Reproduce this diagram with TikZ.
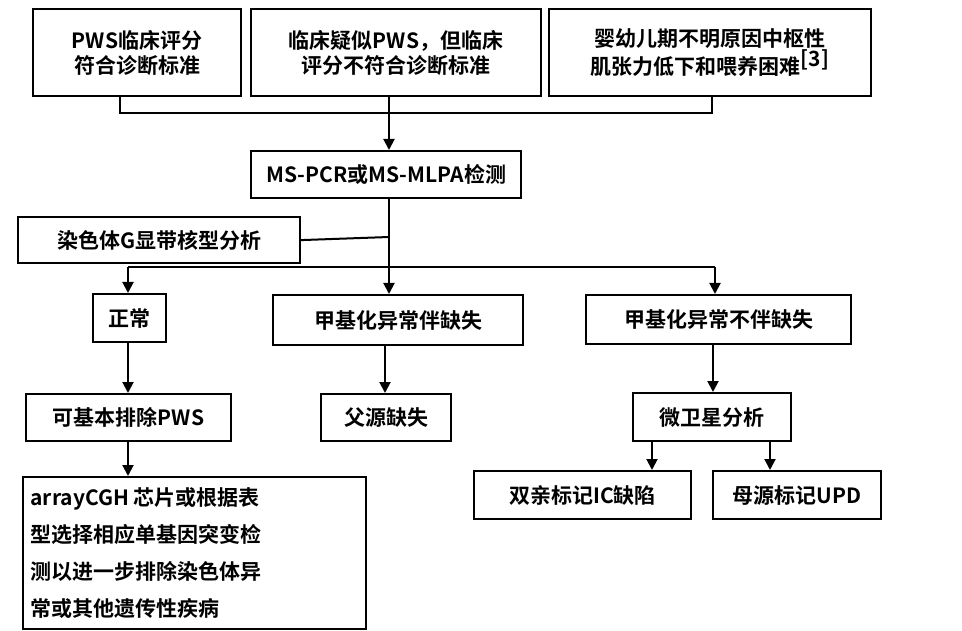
\documentclass[tikz,border=0pt]{standalone}
\usepackage{fontspec}
\setmainfont{Noto Sans CJK SC}[BoldFont={* Bold}]
\usetikzlibrary{arrows.meta}
\begin{document}
\begin{tikzpicture}[x=1pt,y=-1pt,
  box/.style={draw,line width=2.2pt,font=\bfseries\fontsize{21}{25}\selectfont,inner sep=0pt,anchor=north west},
  ln/.style={line width=2pt},
  ar/.style={line width=2pt,-{Triangle[length=11pt,width=11pt]}}]
\useasboundingbox (0,0) rectangle (962,631);
\newcommand{\bx}[6]{\node[box,minimum width=#4-#2,minimum height=#5-#3,align=#6] (#1) at (#2,#3) {};}
\bx{b1}{32}{8}{240}{95}{center}
\node[font=\bfseries\fontsize{21}{25}\selectfont,align=center] at (b1.center) {PWS临床评分\\符合诊断标准};
\bx{b2}{250}{8}{540}{95}{center}
\node[font=\bfseries\fontsize{21}{25}\selectfont,align=center] at (b2.center) {临床疑似PWS，但临床\\评分不符合诊断标准};
\bx{b3}{548}{8}{870}{95}{center}
\node[font=\bfseries\fontsize{21}{25}\selectfont,align=center] at (b3.center) {婴幼儿期不明原因中枢性\\肌张力低下和喂养困难$^{\textbf{[3]}}$};
\bx{ms}{250}{150}{520}{197}{center}
\node[font=\bfseries\fontsize{21}{25}\selectfont] at (ms.center) {MS-PCR或MS-MLPA检测};
\bx{g}{17}{216}{299}{262}{center}
\node[font=\bfseries\fontsize{21}{25}\selectfont] at (g.center) {染色体G显带核型分析};
\bx{n}{92}{293}{165}{341}{center}
\node[font=\bfseries\fontsize{21}{25}\selectfont] at (n.center) {正常};
\bx{d}{272}{294}{522}{344}{center}
\node[font=\bfseries\fontsize{21}{25}\selectfont] at (d.center) {甲基化异常伴缺失};
\bx{nd}{585}{294}{850}{343}{center}
\node[font=\bfseries\fontsize{21}{25}\selectfont] at (nd.center) {甲基化异常不伴缺失};
\bx{ex}{25}{393}{230}{440}{center}
\node[font=\bfseries\fontsize{21}{25}\selectfont] at (ex.center) {可基本排除PWS};
\bx{pd}{320}{393}{450}{440}{center}
\node[font=\bfseries\fontsize{21}{25}\selectfont] at (pd.center) {父源缺失};
\bx{ws}{632}{392}{790}{440}{center}
\node[font=\bfseries\fontsize{21}{25}\selectfont] at (ws.center) {微卫星分析};
\bx{ic}{473}{470}{690}{518}{center}
\node[font=\bfseries\fontsize{21}{25}\selectfont] at (ic.center) {双亲标记IC缺陷};
\bx{upd}{712}{470}{880}{518}{center}
\node[font=\bfseries\fontsize{21}{25}\selectfont] at (upd.center) {母源标记UPD};
\bx{ac}{22}{476}{365}{628}{center}
\node[font=\bfseries\fontsize{21}{37}\selectfont,align=left,anchor=west] at ([xshift=5pt]ac.west) {arrayCGH 芯片或根据表\\型选择相应单基因突变检\\测以进一步排除染色体异\\常或其他遗传性疾病};
% connectors
\coordinate (j1) at (120,113); \coordinate (j3) at (712,113);
\draw[ln] (120,95) -- (j1) -- (j3) -- (712,95);
\draw[ar] (389,95) -- (ms.north -| 389,0);
\draw[ln] (ms.south -| 389,0) -- (389,267);
\draw[ln] (g.east) -- (389,237);
\draw[ln] (128,267) -- (715,267);
\draw[ar] (128,267) -- (n.north -| 128,0);
\draw[ar] (389,267) -- (d.north -| 389,0);
\draw[ar] (715,267) -- (nd.north -| 715,0);
\draw[ar] (n.south -| 128,0) -- (ex.north -| 128,0);
\draw[ar] (d.south -| 385,0) -- (pd.north -| 385,0);
\draw[ar] (nd.south -| 713,0) -- (ws.north -| 713,0);
\draw[ar] (ex.south -| 128,0) -- (ac.north -| 128,0);
\draw[ar] (ws.south -| 652,0) -- (ic.north -| 652,0);
\draw[ar] (ws.south -| 770,0) -- (upd.north -| 770,0);
\end{tikzpicture}
\end{document}
